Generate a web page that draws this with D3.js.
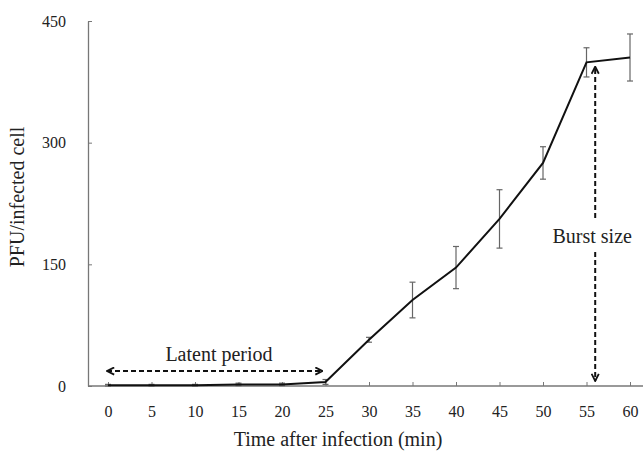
<!DOCTYPE html>
<html><head><meta charset="utf-8">
<script src="https://cdn.jsdelivr.net/npm/d3@7"></script>
<style>body{margin:0;background:#fff}svg{display:block}</style>
</head><body>
<svg id="c" width="643" height="453"></svg>
<script>
const times = [0,5,10,15,20,25,30,35,40,45,50,55,60];
const pfu   = [1,1,1,2,2,5,57,106,146,206,275,399,405];
const errs  = [1,1,1,1.5,1.5,3,3,22,26,36,20,18,29];
const yTicks = [0,150,300,450];
const latentRange = [0,25];
const burstAt = 56;

const svg = d3.select("#c");
const x = d3.scaleLinear().domain([0,60]).range([108,630]);
const y = d3.scaleLinear().domain([0,450]).range([386,21]);
const axisCol = "#777";
const FF = "Liberation Serif, DejaVu Serif, Noto Serif, Times, serif";

// axes
const xa = svg.append("g").attr("transform","translate(0,386)")
  .call(d3.axisBottom(x).tickValues(times).tickSize(-4).tickPadding(20).tickSizeOuter(0));
xa.select(".domain").attr("d","M88,0H643");
const ya = svg.append("g").attr("transform","translate(88,0)")
  .call(d3.axisLeft(y).tickValues(yTicks).tickSize(-4).tickPadding(22).tickSizeOuter(0));
svg.selectAll("g").attr("font-family",null);
svg.selectAll(".domain").attr("stroke",axisCol).attr("stroke-width",1.3);
svg.selectAll(".tick line").attr("stroke",axisCol).attr("stroke-width",1);
svg.selectAll(".tick text").attr("font-size",16).attr("fill","#222").style("font-family",FF);

// error bars
const eb = svg.append("g").attr("stroke","#666").attr("stroke-width",1.2);
times.forEach((t,i)=>{
  const cx = x(t), y1 = y(pfu[i]+errs[i]), y2 = y(Math.max(0,pfu[i]-errs[i]));
  eb.append("line").attr("x1",cx).attr("x2",cx).attr("y1",y1).attr("y2",y2);
  eb.append("line").attr("x1",cx-3).attr("x2",cx+3).attr("y1",y1).attr("y2",y1);
  eb.append("line").attr("x1",cx-3).attr("x2",cx+3).attr("y1",y2).attr("y2",y2);
});

// line
svg.append("path").datum(times.map((t,i)=>[t,pfu[i]]))
  .attr("fill","none").attr("stroke","#111").attr("stroke-width",2)
  .attr("d",d3.line().x(d=>x(d[0])).y(d=>y(d[1])));

// arrows
const defs = svg.append("defs");
defs.append("marker").attr("id","ah").attr("viewBox","0 0 10 10").attr("refX",9).attr("refY",5)
  .attr("markerWidth",9).attr("markerHeight",9).attr("markerUnits","userSpaceOnUse").attr("orient","auto-start-reverse")
  .append("path").attr("d","M1,1L9,5L1,9").attr("fill","none").attr("stroke","#111").attr("stroke-width",2);

const ly = 371;
svg.append("line").attr("x1",x(latentRange[0])-1).attr("x2",x(latentRange[1])-3).attr("y1",ly).attr("y2",ly)
  .attr("stroke","#111").attr("stroke-width",2).attr("stroke-dasharray","5,3")
  .attr("marker-start","url(#ah)").attr("marker-end","url(#ah)");
svg.append("text").attr("x",219).attr("y",361)
  .attr("text-anchor","middle").style("font-family",FF).attr("font-size",20).attr("fill","#222").text("Latent period");

const bx = x(burstAt);
svg.append("line").attr("x1",bx).attr("x2",bx).attr("y1",218).attr("y2",y(400)+5)
  .attr("stroke","#111").attr("stroke-width",2).attr("stroke-dasharray","5,3").attr("marker-end","url(#ah)");
svg.append("line").attr("x1",bx).attr("x2",bx).attr("y1",252).attr("y2",381)
  .attr("stroke","#111").attr("stroke-width",2).attr("stroke-dasharray","5,3").attr("marker-end","url(#ah)");
svg.append("text").attr("x",bx-3).attr("y",243).attr("text-anchor","middle").style("font-family",FF).attr("font-size",20).attr("fill","#222").text("Burst size");

// titles
svg.append("text").attr("x",338).attr("y",446).attr("text-anchor","middle").style("font-family",FF).attr("font-size",20).attr("fill","#222")
  .text("Time after infection (min)");
svg.append("text").attr("transform","translate(24,197) rotate(-90)").attr("text-anchor","middle").style("font-family",FF).attr("font-size",20).attr("fill","#222")
  .text("PFU/infected cell");
</script>
</body></html>
